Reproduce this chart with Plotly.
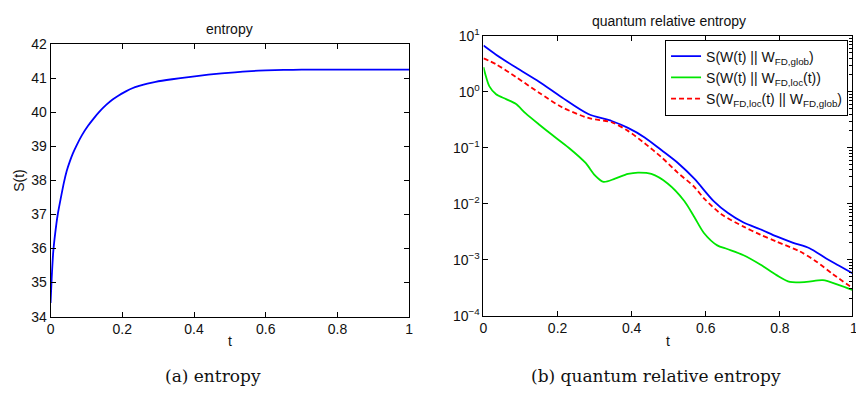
import plotly.graph_objects as go

# ---- data: entropy S(t) ----
t_entropy = [0, 0.003, 0.0075, 0.013, 0.02, 0.028, 0.037, 0.045, 0.054, 0.062, 0.072, 0.088,
             0.104, 0.12, 0.137, 0.155, 0.173, 0.19, 0.21, 0.228, 0.247, 0.27, 0.293, 0.339,
             0.385, 0.44, 0.514, 0.56, 0.6, 0.65, 0.7, 0.8, 0.9, 1.0]
s_entropy = [34.4, 35.1, 35.9, 36.45, 37.0, 37.45, 37.93, 38.28, 38.57, 38.79, 39.02, 39.34,
             39.6, 39.82, 40.03, 40.22, 40.38, 40.5, 40.62, 40.71, 40.78, 40.85, 40.9, 40.975,
             41.04, 41.11, 41.18, 41.215, 41.235, 41.25, 41.256, 41.26, 41.26, 41.26]

# ---- data: quantum relative entropies ----
t_glob = [0, 0.034, 0.087, 0.15, 0.212, 0.283, 0.346, 0.39, 0.435, 0.48, 0.524, 0.569,
          0.622, 0.66, 0.702, 0.747, 0.791, 0.836, 0.88, 0.925, 0.96, 1.0]
s_glob = [6.7, 4.6, 2.73, 1.51, 0.79, 0.40, 0.30, 0.226, 0.153, 0.091, 0.054, 0.028,
          0.011, 0.0068, 0.0046, 0.0035, 0.0026, 0.002, 0.0016, 0.00105, 0.00078, 0.00055]

t_loc = [0, 0.007, 0.016, 0.034, 0.061, 0.087, 0.114, 0.15, 0.185, 0.23, 0.275, 0.301,
         0.324, 0.355, 0.39, 0.417, 0.453, 0.497, 0.542, 0.569, 0.595, 0.631, 0.658,
         0.702, 0.747, 0.791, 0.827, 0.872, 0.916, 0.96, 1.0]
s_loc = [2.75, 1.85, 1.25, 0.9, 0.74, 0.61, 0.41, 0.26, 0.17, 0.10, 0.054, 0.032,
         0.0245, 0.028, 0.034, 0.036, 0.034, 0.023, 0.0112, 0.0058, 0.003, 0.0018, 0.00155,
         0.0012, 0.00082, 0.00053, 0.0004, 0.0004, 0.00043, 0.00035, 0.00028]

t_fd = [0, 0.034, 0.087, 0.15, 0.212, 0.283, 0.346, 0.39, 0.435, 0.48, 0.524, 0.569,
        0.595, 0.642, 0.702, 0.747, 0.791, 0.854, 0.898, 0.943, 1.0]
s_fd = [3.95, 3.1, 1.85, 0.96, 0.53, 0.34, 0.285, 0.2, 0.12, 0.068, 0.036, 0.02,
        0.0125, 0.0065, 0.0039, 0.0028, 0.0021, 0.0014, 0.00093, 0.00055, 0.0003]

x_ticks = [0, 0.2, 0.4, 0.6, 0.8, 1]
log_tickvals = [1e-4, 1e-3, 1e-2, 1e-1, 1e0, 1e1]
log_ticktext = ["10<sup>\u22124</sup>", "10<sup>\u22123</sup>", "10<sup>\u22122</sup>",
                "10<sup>\u22121</sup>", "10<sup>0</sup>", "10<sup>1</sup>"]

legend_names = ["S(W(t) || W<sub>FD,glob</sub>)",
                "S(W(t) || W<sub>FD,loc</sub>(t))",
                "S(W<sub>FD,loc</sub>(t) || W<sub>FD,glob</sub>)"]

W, H = 856, 401
SANS = "Liberation Sans, Arial, sans-serif"
SERIF = "DejaVu Serif, serif"

# right panel: t = 0 sits at 484 px and t = 1 just past the page edge (858 px)
R_LEFT, R_T1 = 484, 858
r_xmax = (W - R_LEFT) / (R_T1 - R_LEFT)


def px(x):
    return x / W


def py(y):
    return 1 - y / H


fig = go.Figure()

fig.add_trace(go.Scatter(x=t_entropy, y=s_entropy, mode="lines",
                         line=dict(color="#0000ff", width=1.8, shape="spline", smoothing=0.6),
                         xaxis="x", yaxis="y", showlegend=False))

fig.add_trace(go.Scatter(x=t_glob, y=s_glob, mode="lines", name=legend_names[0],
                         line=dict(color="#0000ff", width=1.8, shape="spline", smoothing=0.8),
                         xaxis="x2", yaxis="y2"))
fig.add_trace(go.Scatter(x=t_loc, y=s_loc, mode="lines", name=legend_names[1],
                         line=dict(color="#00e600", width=1.8, shape="spline", smoothing=0.8),
                         xaxis="x2", yaxis="y2"))
fig.add_trace(go.Scatter(x=t_fd, y=s_fd, mode="lines", name=legend_names[2],
                         line=dict(color="#ff0000", width=1.8, dash="5px,3px", shape="spline", smoothing=0.8),
                         xaxis="x2", yaxis="y2"))

axis_common = dict(showline=True, linecolor="black", linewidth=1, mirror="ticks",
                   ticks="inside", ticklen=5, tickcolor="black", showgrid=False,
                   zeroline=False, tickfont=dict(family=SANS, size=14, color="#111"))

fig.update_layout(
    width=W, height=H, margin=dict(l=0, r=0, t=0, b=0),
    paper_bgcolor="white", plot_bgcolor="white",
    xaxis=dict(domain=[px(47), px(409)], range=[0, 1], tickvals=x_ticks, anchor="y", **axis_common),
    yaxis=dict(domain=[py(321), py(36)], range=[34, 42], dtick=1, anchor="x", **axis_common),
    xaxis2=dict(domain=[px(R_LEFT), 1], range=[0, r_xmax], tickvals=x_ticks, anchor="y2", **axis_common),
    yaxis2=dict(domain=[py(320), py(27)], type="log", range=[-4, 1], tickvals=log_tickvals,
                ticktext=log_ticktext, anchor="x2", **axis_common),
    yaxis3=dict(domain=[py(320), py(27)], type="log", range=[-4, 1], overlaying="y2", side="right",
                anchor="x2", showticklabels=False, ticks="inside", ticklen=5, showgrid=False,
                tickvals=log_tickvals, tickcolor="black",
                minor=dict(ticks="inside", ticklen=3, tickcolor="black", dtick="D1", showgrid=False)),
    legend=dict(x=px(852), y=py(31), xanchor="right", yanchor="top",
                bgcolor="white", bordercolor="black", borderwidth=1,
                font=dict(family=SANS, size=14, color="#111"), tracegroupgap=0),
)

# invisible trace that carries the right-side log axis with its minor ticks
fig.add_trace(go.Scatter(x=[0.5], y=[1], mode="markers", marker=dict(opacity=0), xaxis="x2", yaxis="y3",
                         showlegend=False, hoverinfo="skip"))

ann = [
    dict(text="entropy", x=px(228), y=py(20), font=dict(family=SANS, size=14, color="#111")),
    dict(text="quantum relative entropy", x=px(671), y=py(11), font=dict(family=SANS, size=14, color="#111")),
    dict(text="t", x=px(228), y=py(347), font=dict(family=SANS, size=14, color="#111")),
    dict(text="t", x=px(670), y=py(347), font=dict(family=SANS, size=14, color="#111")),
    dict(text="S(t)", x=px(15), y=py(178), textangle=-90, font=dict(family=SANS, size=14, color="#111")),
    dict(text="1", x=px(R_T1), y=py(333), font=dict(family=SANS, size=14, color="#111")),
    dict(text="(a) entropy", x=px(211), y=py(383), font=dict(family=SERIF, size=17, color="#111")),
    dict(text="(b) quantum relative entropy", x=px(658), y=py(383), font=dict(family=SERIF, size=17, color="#111")),
]
for a in ann:
    fig.add_annotation(xref="paper", yref="paper", showarrow=False, xanchor="center", yanchor="middle", **a)

# page without body margin or scrollbars so the figure fills the window exactly
page_css = ("document.documentElement.style.margin='0';document.body.style.margin='0';"
            "document.documentElement.style.overflow='hidden';document.body.style.overflow='hidden';")
fig.write_html("out.html", post_script=page_css)
